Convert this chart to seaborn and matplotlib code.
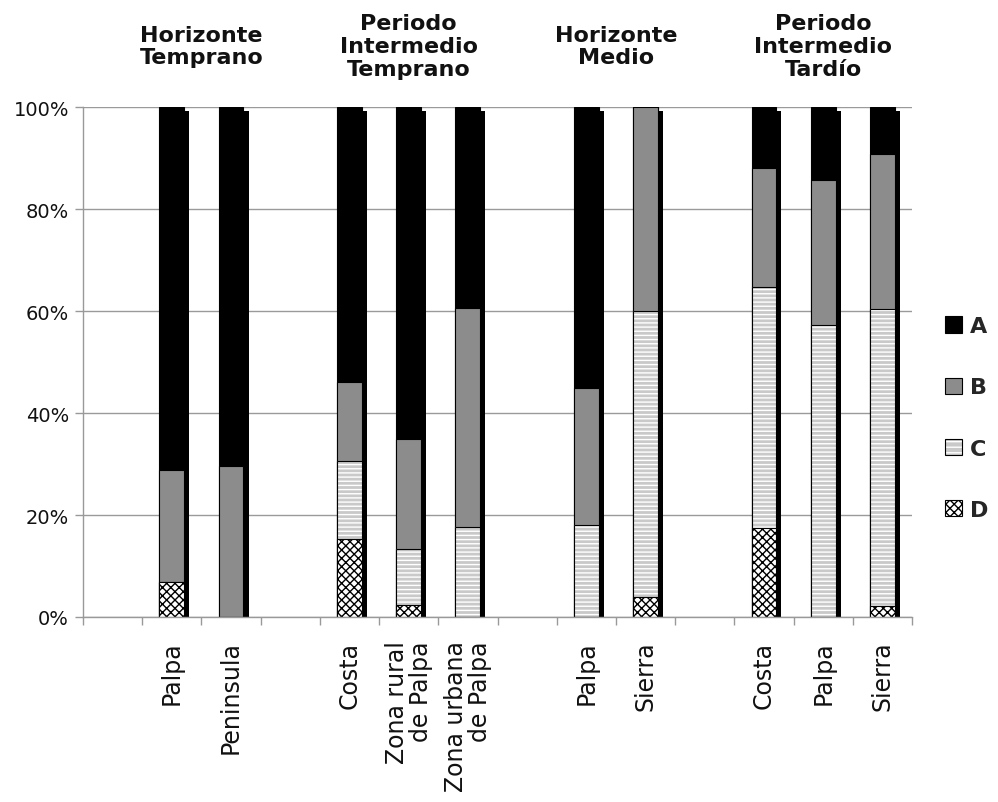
import numpy as np
import pandas as pd
import matplotlib
matplotlib.use("Agg")
import matplotlib.pyplot as plt
from matplotlib.patches import Patch, Rectangle
from matplotlib.legend_handler import HandlerTuple
from matplotlib.transforms import blended_transform_factory
import seaborn as sns

# ---------------- data ----------------
groups = ["Horizonte\nTemprano", "Periodo\nIntermedio\nTemprano",
          "Horizonte\nMedio", "Periodo\nIntermedio\nTardío"]
group_of = [0, 0, 1, 1, 1, 2, 2, 3, 3, 3]
categories = ["Palpa", "Peninsula", "Costa", "Zona rural\nde Palpa",
              "Zona urbana\nde Palpa", "Palpa", "Sierra", "Costa", "Palpa", "Sierra"]
series_names = ["A", "B", "C", "D"]
A = [71.2, 70.3, 54.0, 65.0, 39.5, 55.0, 0.0, 12.0, 14.3, 9.2]
B = [22.0, 29.7, 15.5, 21.7, 42.9, 26.9, 40.0, 23.2, 28.4, 30.4]
C = [0.0, 0.0, 15.2, 10.9, 17.6, 18.1, 56.1, 47.3, 57.3, 58.2]
D = [6.8, 0.0, 15.3, 2.4, 0.0, 0.0, 3.9, 17.5, 0.0, 2.2]
y_ticks = [0, 20, 40, 60, 80, 100]
y_tick_labels = ["0%", "20%", "40%", "60%", "80%", "100%"]

# ---------------- layout ----------------
slots = [1, 2, 4, 5, 6, 8, 9, 11, 12, 13]
BAR_W = 0.42
SHADOW_DX = 0.085

sns.set_theme(style="white")
plt.rcParams['font.family'] = ['DejaVu Sans']
plt.rcParams['hatch.linewidth'] = 1.0

fig = plt.figure(figsize=(9.98, 8.03), dpi=100)
fig.patch.set_facecolor("white")
ax = fig.add_axes([83 / 998, 185 / 803, (912 - 83) / 998, (618 - 108) / 803])
ax.set_facecolor("white")

df = pd.DataFrame({"pos": slots, "A": A, "B": B, "C": C, "D": D})
df["cD"] = df["D"]
df["cC"] = df["cD"] + df["C"]
df["cB"] = df["cC"] + df["B"]
df["cA"] = df["cB"] + df["A"]
df["shadow_pos"] = df["pos"] + SHADOW_DX
df["shadow_h"] = df["cA"] - 0.8

# 3D-like black side shadow
sns.barplot(data=df, x="shadow_pos", y="shadow_h", native_scale=True, width=BAR_W,
            color="black", saturation=1, errorbar=None, linewidth=0, ax=ax)

C_FACE = "#c9c9c9"
layers = [("cA", "#000000"), ("cB", "#8c8c8c"), ("cC", C_FACE), ("cD", "#ffffff")]
for col, face in layers:
    n0 = len(ax.patches)
    sns.barplot(data=df, x="pos", y=col, native_scale=True, width=BAR_W,
                color=face, saturation=1, errorbar=None, linewidth=0.8,
                edgecolor="black", ax=ax)
    new = ax.patches[n0:]
    if col == "cC":
        for p in new:
            p.set_edgecolor("white")
            p.set_linewidth(0)
            p.set_hatch("----")
            ax.add_patch(Rectangle(p.get_xy(), p.get_width(), p.get_height(),
                                   fill=False, edgecolor="black", linewidth=0.8, zorder=p.get_zorder()))
    elif col == "cD":
        for p in new:
            p.set_hatch("xxxx")
            p.set_edgecolor("black")

# axes styling
ax.set_xlim(-0.5, 13.5)
ax.set_ylim(0, 100)
ax.set_xlabel("")
ax.set_ylabel("")
ax.set_xticks(slots)
ax.set_xticklabels(categories, rotation=90, fontsize=17, ha="center", va="top",
                   multialignment="right", color="#111111", linespacing=1.0)
ax.set_xticks(np.arange(-0.5, 14, 1), minor=True)
ax.tick_params(axis="x", which="major", length=0, pad=17, bottom=True)
ax.tick_params(axis="x", which="minor", length=6, width=1, color="#999999",
               direction="out", bottom=True)
ax.set_yticks(y_ticks)
ax.set_yticklabels(y_tick_labels, fontsize=14, color="#111111")
ax.tick_params(axis="y", length=6, width=1, color="#999999", direction="out", left=True, pad=4)
ax.yaxis.grid(True, color="#9a9a9a", linewidth=1)
ax.xaxis.grid(False)
ax.set_axisbelow(True)
for s in ["top", "right"]:
    ax.spines[s].set_visible(False)
for s in ["left", "bottom"]:
    ax.spines[s].set_color("#999999")
    ax.spines[s].set_linewidth(1)

# group titles
trans = blended_transform_factory(ax.transData, fig.transFigure)
for g, name in enumerate(groups):
    xs = [slots[i] for i in range(len(slots)) if group_of[i] == g]
    ax.text(np.mean(xs), 1 - 47 / 803, name, transform=trans, ha="center", va="center",
            fontsize=16, fontweight="bold", linespacing=1.18, color="#111111")

# legend
handles = [
    Patch(facecolor="#000000", edgecolor="black", linewidth=0.8),
    Patch(facecolor="#8c8c8c", edgecolor="black", linewidth=0.8),
    (Patch(facecolor=C_FACE, edgecolor="white", linewidth=0, hatch="---"),
     Patch(fill=False, edgecolor="black", linewidth=0.8)),
    Patch(facecolor="white", edgecolor="black", hatch="xxxx", linewidth=0.8),
]
fig.legend(handles, series_names, loc="center left",
           bbox_to_anchor=(941 / 998, 1 - 419 / 803), frameon=False,
           prop={"size": 16, "weight": "bold"}, labelspacing=1.85,
           handlelength=0.75, handleheight=0.75, handletextpad=0.35,
           borderpad=0.2, borderaxespad=0.0,
           handler_map={tuple: HandlerTuple(ndivide=1)})

fig.savefig("out.png", dpi=100)
